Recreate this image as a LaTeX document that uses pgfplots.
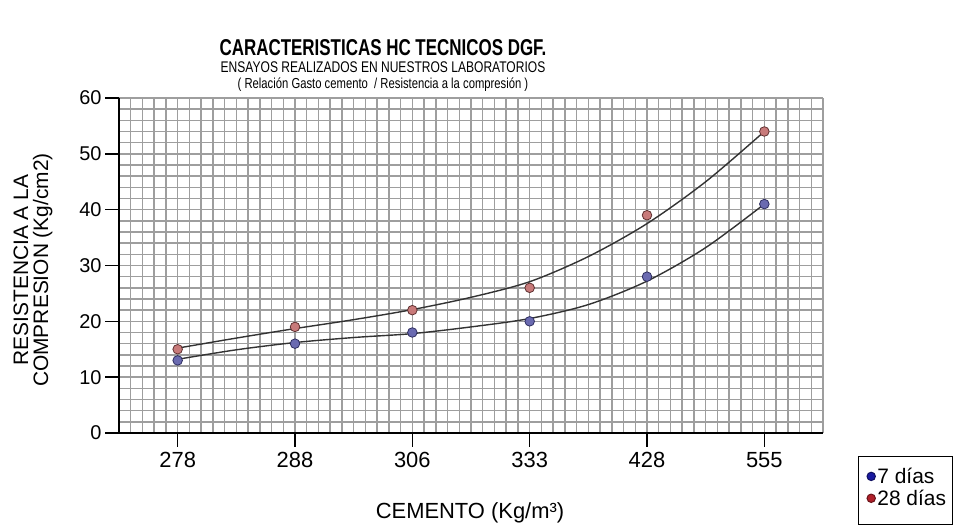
\documentclass[border=0pt]{standalone}
\usepackage{fontspec}
\setmainfont{Liberation Sans}
\usepackage{graphicx}
\usepackage{pgfplots}
\pgfplotsset{compat=1.18}
\definecolor{gridc}{HTML}{9E9E9E}
\definecolor{sevenP}{HTML}{6A6AB0}
\definecolor{sevenE}{HTML}{2E2E60}
\definecolor{twentyP}{HTML}{C87A7A}
\definecolor{twentyE}{HTML}{5E3030}
\definecolor{sevenL}{HTML}{1A1AA0}
\definecolor{twentyL}{HTML}{B0202A}
\begin{document}
\begin{tikzpicture}[x=1bp,y=1bp]
\begin{axis}[
  at={(119bp,94bp)}, anchor=south west,
  scale only axis, width=704bp, height=335bp,
  xmin=-0.5, xmax=5.5, ymin=0, ymax=60,
  xtick={0,1,2,3,4,5},
  xticklabels={278,288,306,333,428,555},
  ytick={0,10,20,30,40,50,60},
  minor xtick={-0.5,-0.4,...,5.55},
  minor ytick={0,2,...,60},
  grid=both,
  major grid style={draw=none},
  minor grid style={gridc, line width=1.45bp},
  axis x line=bottom, axis y line=left,
  every outer x axis line/.append style={-},
  every outer y axis line/.append style={-},
  every inner x axis line/.append style={-},
  every inner y axis line/.append style={-},
  axis line style={-, line width=1.8bp, black},
  tick align=outside,
  major tick length=14bp, minor tick length=0pt,
  major tick style={line width=1.6bp, black},
  xticklabel style={font=\fontsize{22}{22}\selectfont, yshift=-2bp},
  yticklabel style={font=\fontsize{20}{20}\selectfont},
  /pgf/number format/assume math mode=true,
  legend style={at={(rel axis cs:1.05,-0.07)}, anchor=north west,
    draw=black, line width=1bp, font=\fontsize{21}{21}\selectfont,
    inner xsep=4bp, inner ysep=9bp, row sep=1bp},
  legend cell align=left,
]
% trend curves
\addplot[black!80, line width=1.4bp, smooth, forget plot] coordinates {
 (0,15.2) (0.5,17.0) (1,18.7) (1.5,20.3) (2,22.1) (2.5,24.3) (3,27.1) (3.5,31.6) (4,37.5) (4.5,45.0) (5,54)};
\addplot[black!80, line width=1.4bp, smooth, forget plot] coordinates {
 (0,13.2) (0.5,14.9) (1,16.2) (1.5,17.1) (2,17.8) (2.5,19.0) (3,20.5) (3.5,23.0) (4,27.2) (4.5,33.2) (5,41)};
% data points
\addplot[only marks, mark=*, mark size=4.8bp, mark options={fill=sevenP, draw=sevenE, line width=0.8bp}, forget plot]
 coordinates {(0,13) (1,16) (2,18) (3,20) (4,28) (5,41)};
\addplot[only marks, mark=*, mark size=4.8bp, mark options={fill=twentyP, draw=twentyE, line width=0.8bp}, forget plot]
 coordinates {(0,15) (1,19) (2,22) (3,26) (4,39) (5,54)};
\addlegendimage{only marks, mark=*, mark size=4.2bp, mark options={fill=sevenL, draw=sevenL!60!black}}
\addlegendentry{7 días}
\addlegendimage{only marks, mark=*, mark size=4.2bp, mark options={fill=twentyL, draw=twentyL!60!black}}
\addlegendentry{28 días}
\addlegendimage{empty legend}
\addlegendentry{\hspace{110bp}}
\end{axis}
\node at (383,479) {\scalebox{0.74}[1]{\fontsize{23}{23}\selectfont\bfseries CARACTERISTICAS HC TECNICOS DGF.}};
\node at (383,460) {\scalebox{0.78}[1]{\fontsize{15.5}{15.5}\selectfont ENSAYOS REALIZADOS EN NUESTROS LABORATORIOS}};
\node at (383,442) {\scalebox{0.78}[1]{\fontsize{14.5}{14.5}\selectfont ( Relación Gasto cemento \ / Resistencia a la compresión )}};
\node[font=\fontsize{22}{22}\selectfont] at (470,14) {CEMENTO (Kg/m³)};
\node[rotate=90, align=center, font=\fontsize{21}{20}\selectfont] at (33,257) {RESISTENCIA A LA\\COMPRESION (Kg/cm2)};
\pgfresetboundingbox
\path[use as bounding box] (0,0) rectangle (979,527);
\end{tikzpicture}
\end{document}
